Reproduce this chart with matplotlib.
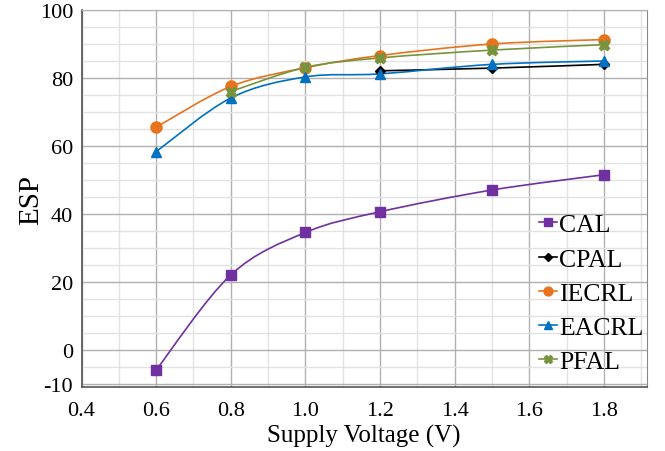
import numpy as np
import matplotlib
matplotlib.use("Agg")
import matplotlib.pyplot as plt
from matplotlib.path import Path
from matplotlib.patches import PathPatch
from matplotlib.ticker import MultipleLocator, FixedLocator

plt.rcParams['font.family'] = ['Liberation Serif', 'DejaVu Serif']
plt.rcParams['axes.unicode_minus'] = False

voltage = [0.6, 0.8, 1.0, 1.2, 1.5, 1.8]
cal = [-6.0, 22.0, 34.5, 40.6, 47.0, 51.5]
cpal_v = [1.2, 1.5, 1.8]
cpal = [82.1, 82.9, 84.0]
iecrl = [65.5, 77.5, 83.0, 86.6, 90.0, 91.3]
eacrl = [58.3, 74.1, 80.3, 81.2, 84.0, 85.0]
pfal_v = [0.8, 1.0, 1.2, 1.5, 1.8]
pfal = [76.0, 83.1, 85.9, 88.2, 89.8]
x_ticks = [0.4, 0.6, 0.8, 1.0, 1.2, 1.4, 1.6, 1.8]
x_tick_labels = ["0.4", "0.6", "0.8", "1.0", "1.2", "1.4", "1.6", "1.8"]
y_ticks = [-10, 0, 20, 40, 60, 80, 100]

series = [
    ("CAL", voltage, cal, "#7030A0", "s", 6.5),
    ("CPAL", cpal_v, cpal, "#000000", "D", 5),
    ("IECRL", voltage, iecrl, "#E8731C", "o", 8),
    ("EACRL", voltage, eacrl, "#0070C0", "^", 7),
    ("PFAL", pfal_v, pfal, "#77933C", "X", 7.5),
]

fig = plt.figure(figsize=(6.65, 4.52), dpi=100)
ax = fig.add_axes([0.1226, 0.1416, 0.8500, 0.8340])


def smooth_path(ax, xs, ys, color):
    # Excel-like smoothed line: cubic Bezier through the points, drawn in display space
    pts = ax.transData.transform(np.column_stack([xs, ys]))
    n = len(pts)
    verts = [pts[0]]
    codes = [Path.MOVETO]
    for i in range(n - 1):
        p0 = pts[i - 1] if i > 0 else pts[i]
        p1 = pts[i]
        p2 = pts[i + 1]
        p3 = pts[i + 2] if i + 2 < n else pts[i + 1]
        c1 = p1 + (p2 - p0) / 6.0
        c2 = p2 - (p3 - p1) / 6.0
        verts += [c1, c2, p2]
        codes += [Path.CURVE4] * 3
    path = Path(verts, codes)
    patch = PathPatch(path, facecolor="none", edgecolor=color, lw=1.2,
                      transform=None, zorder=3)
    ax.add_artist(patch)


ax.set_xlim(0.4, 1.915)
ax.set_ylim(-11, 100)

for name, xs, ys, col, mk, ms in series:
    smooth_path(ax, xs, ys, col)
    ax.plot(xs, ys, linestyle="none", marker=mk, color=col, markersize=ms,
            zorder=4)
    ax.plot([], [], color=col, marker=mk, markersize=ms * 0.8, lw=1.2, label=name)

ax.xaxis.set_major_locator(FixedLocator(x_ticks))
ax.xaxis.set_minor_locator(MultipleLocator(0.1))
ax.yaxis.set_major_locator(FixedLocator(y_ticks))
ax.yaxis.set_minor_locator(MultipleLocator(5))
ax.set_xticklabels(x_tick_labels)

ax.grid(which="major", color="#b0b0b0", lw=1.0)
ax.grid(which="minor", color="#e2e2e2", lw=1.0)
ax.set_axisbelow(True)
ax.tick_params(which="both", length=0, labelsize=16)
ax.tick_params(axis="x", pad=10)
ax.tick_params(axis="y", pad=6)

for s in ["left", "bottom"]:
    ax.spines[s].set_color("#555555")
    ax.spines[s].set_linewidth(1.2)
ax.spines["right"].set_color("#888888")
ax.spines["top"].set_color("#b0b0b0")

ax.set_xlabel("Supply Voltage (V)", fontsize=18, labelpad=3)
ax.set_ylabel("ESP", fontsize=21, labelpad=-3)

leg = ax.legend(loc="lower right", bbox_to_anchor=(1.022, -0.005), frameon=False,
                fontsize=18.5, handlelength=0.7, handletextpad=0.1,
                labelspacing=0.44, borderaxespad=0.2)

fig.savefig("out.png", dpi=100)
